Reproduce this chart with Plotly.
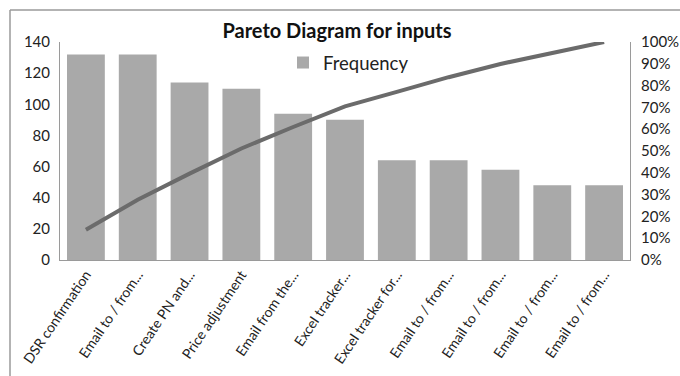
import plotly.graph_objects as go

categories = ["DSR confirmation", "Email to / from...", "Create PN and...", "Price adjustment",
              "Email from the...", "Excel tracker...", "Excel tracker for...", "Email to / from...",
              "Email to / from...", "Email to / from...", "Email to / from..."]
frequency = [132, 132, 114, 110, 94, 90, 64, 64, 58, 48, 48]

total = sum(frequency)
cum = []
running = 0
for v in frequency:
    running += v
    cum.append(running / total)

xpos = list(range(len(categories)))
FONT = "Lato, 'Open Sans', sans-serif"

fig = go.Figure()
fig.add_trace(go.Bar(x=xpos, y=frequency, name="Frequency", marker=dict(color="#a9a9a9", line=dict(width=0)),
                     showlegend=True))
fig.add_trace(go.Scatter(x=xpos, y=cum, yaxis="y2", mode="lines", name="Cumulative",
                         line=dict(color="#6b6b6b", width=4), showlegend=False))

fig.update_layout(
    width=680, height=376,
    margin=dict(l=60, r=50, t=42, b=116, autoexpand=False),
    paper_bgcolor="white", plot_bgcolor="white",
    font=dict(family=FONT, color="#222222", size=13),
    bargap=0.27,
    title=dict(text="<b>Pareto Diagram for inputs</b>", x=337/680, xanchor="center",
               y=1 - 31/376, yanchor="middle", yref="container",
               font=dict(size=20, color="#111111", family=FONT)),
    legend=dict(x=(283-60)/570, xanchor="left", y=1 - (63-42)/218, yanchor="middle",
                font=dict(size=18.5, color="#222222"), bgcolor="rgba(0,0,0,0)",
                itemwidth=30),
    xaxis=dict(tickmode="array", tickvals=xpos, ticktext=categories, tickangle=-56,
               range=[-0.5, len(categories) - 0.5], showline=True, linecolor="#9a9a9a",
               linewidth=1, ticks="", showgrid=False, automargin=False,
               tickfont=dict(size=14, color="#222222")),
    yaxis=dict(range=[0, 140], dtick=20, showline=True, linecolor="#9a9a9a", linewidth=1,
               showgrid=False, zeroline=False, ticks="", ticklabelstandoff=6, automargin=False,
               tickfont=dict(size=15, color="#222222")),
    yaxis2=dict(range=[0, 1], dtick=0.1, tickformat=".0%", overlaying="y", side="right",
                showline=True, linecolor="#9a9a9a", linewidth=1, showgrid=False, zeroline=False,
                ticks="", ticklabelstandoff=7, automargin=False,
                tickfont=dict(size=15, color="#222222")),
    shapes=[
        dict(type="line", xref="paper", yref="paper", x0=(10-60)/570, x1=(690-60)/570,
             y0=1 + (42-10)/218, y1=1 + (42-10)/218, line=dict(color="#9a9a9a", width=1.5)),
        dict(type="line", xref="paper", yref="paper", x0=(10-60)/570, x1=(10-60)/570,
             y0=1 + (42-10)/218, y1=-(386-260)/218, line=dict(color="#9a9a9a", width=1.5)),
    ],
)

fig.write_html("out.html")
